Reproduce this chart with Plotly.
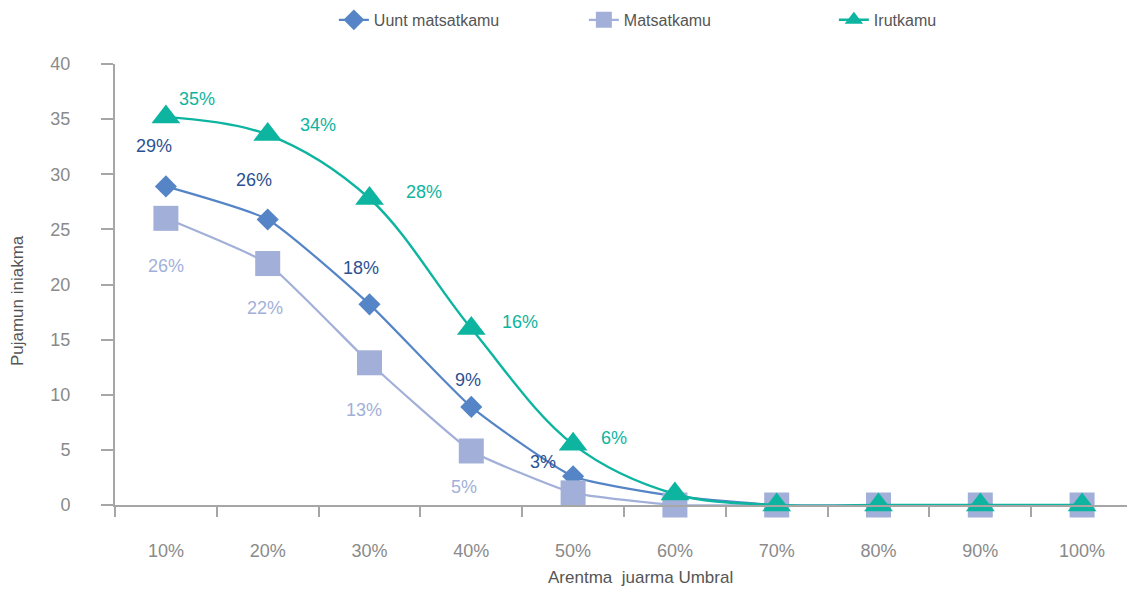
import plotly.graph_objects as go

categories = ["10%", "20%", "30%", "40%", "50%", "60%", "70%", "80%", "90%", "100%"]

uunt_vals = [28.9, 25.9, 18.2, 8.9, 2.6, 0.8, 0, 0, 0, 0]
mats_vals = [26.0, 21.9, 12.9, 4.9, 1.1, 0, 0, 0, 0, 0]
irut_vals = [35.2, 33.6, 27.8, 16.0, 5.5, 1.0, 0, 0, 0, 0]

uunt_labels = ["29%", "26%", "18%", "9%", "3%", "", "", "", "", ""]
mats_labels = ["26%", "22%", "13%", "5%", "", "", "", "", "", ""]
irut_labels = ["35%", "34%", "28%", "16%", "6%", "", "", "", "", ""]

x_title = "Arentma&nbsp; juarma Umbral"
y_title = "Pujamun iniakma"

# label offsets in pixels (dx, dy) relative to the point
uunt_off = [(-12, 40), (-14, 39), (-9, 36), (-3, 27), (-30, 14)]
mats_off = [(0, -48), (-3, -44), (-6, -47), (-7, -36)]
irut_off = [(31, 18), (50, 10), (54, 7), (49, 7), (41, 6)]

C_UUNT = "#5585c6"
C_UUNT_LBL = "#2b5192"
C_MATS = "#a2b0d9"
C_IRUT = "#0db4a0"
FONT = "Liberation Sans, Arial, sans-serif"

fig = go.Figure()
fig.add_trace(go.Scatter(
    x=categories, y=uunt_vals, name="Uunt matsatkamu", mode="lines+markers",
    line=dict(color=C_UUNT, width=2.2, shape="spline", smoothing=0.5),
    marker=dict(symbol="diamond", size=17, color=C_UUNT), cliponaxis=False))
fig.add_trace(go.Scatter(
    x=categories, y=mats_vals, name="Matsatkamu", mode="lines+markers",
    line=dict(color=C_MATS, width=2.2, shape="spline", smoothing=0.4),
    marker=dict(symbol="square", size=25, color=C_MATS), cliponaxis=False))
fig.add_trace(go.Scatter(
    x=categories, y=irut_vals, name="Irutkamu", mode="lines+markers",
    line=dict(color=C_IRUT, width=2.4, shape="spline", smoothing=1.0),
    marker=dict(symbol="triangle-up", size=25, color=C_IRUT), cliponaxis=False))

annotations = []
for labels, vals, offs, col in [
    (uunt_labels, uunt_vals, uunt_off, C_UUNT_LBL),
    (mats_labels, mats_vals, mats_off, C_MATS),
    (irut_labels, irut_vals, irut_off, C_IRUT),
]:
    for i, (lab, v) in enumerate(zip(labels, vals)):
        if not lab:
            continue
        dx, dy = offs[i]
        annotations.append(dict(
            x=categories[i], y=v, xref="x", yref="y", text=lab, showarrow=False,
            xshift=dx, yshift=dy, font=dict(family=FONT, size=18, color=col)))

# axis titles (placed as paper annotations to match the original offsets)
annotations.append(dict(text=x_title, xref="paper", yref="paper", x=0.516, y=-0.165,
                        xanchor="center", yanchor="middle", showarrow=False,
                        font=dict(family=FONT, size=17, color="#555555")))
annotations.append(dict(text=y_title, xref="paper", yref="paper", x=-0.095, y=0.463,
                        xanchor="center", yanchor="middle", textangle=-90, showarrow=False,
                        font=dict(family=FONT, size=17, color="#555555")))

# page body has an 8px margin, so the figure is sized/offset to compensate
fig.update_layout(
    width=1127, height=584,
    margin=dict(l=107, r=2, t=56, b=87, autoexpand=False),
    paper_bgcolor="white", plot_bgcolor="white",
    font=dict(family=FONT, size=16, color="#888888"),
    showlegend=True,
    legend=dict(orientation="h", x=0.215, xanchor="left", y=1.1, yanchor="middle",
                font=dict(family=FONT, size=16, color="#555555"),
                entrywidth=205, entrywidthmode="pixels", bgcolor="rgba(0,0,0,0)"),
    annotations=annotations,
    xaxis=dict(
        type="category", range=[-0.5, 9.5], tickson="boundaries", automargin=False,
        ticks="outside", ticklen=10, tickwidth=1.5, tickcolor="#a6a6a6",
        showline=True, linecolor="#a6a6a6", linewidth=2, showgrid=False, zeroline=False,
        tickfont=dict(family=FONT, size=18, color="#8a8a8a"), ticklabelstandoff=28,
    ),
    yaxis=dict(
        range=[0, 40], tickvals=[0, 5, 10, 15, 20, 25, 30, 35, 40], automargin=False,
        ticks="outside", ticklen=12, tickwidth=1.5, tickcolor="#a6a6a6",
        showline=True, linecolor="#a6a6a6", linewidth=2, showgrid=False, zeroline=False,
        tickfont=dict(family=FONT, size=18, color="#8a8a8a"), ticklabelstandoff=27,
    ),
)

fig.write_html("out.html")
